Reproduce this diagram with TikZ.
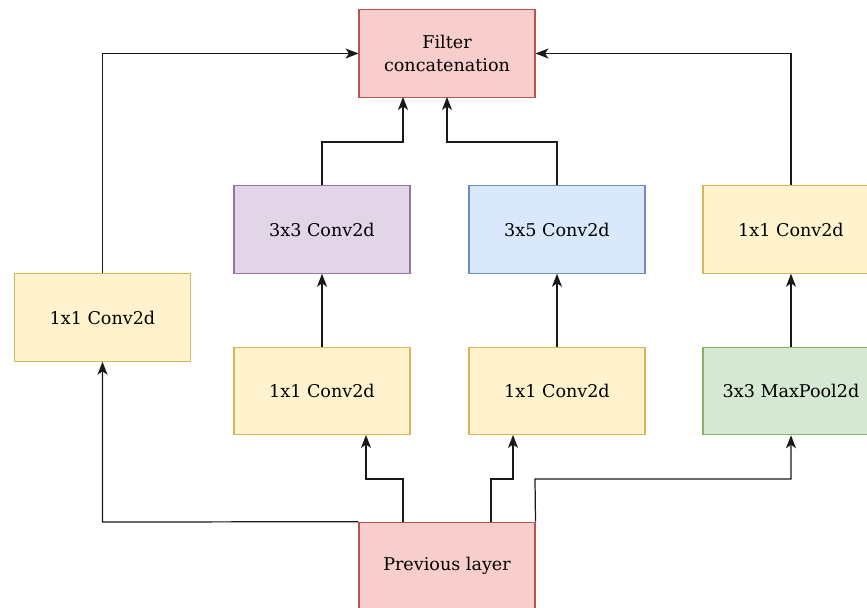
\documentclass[tikz,border=0pt]{standalone}
\usepackage{fontspec}
\setmainfont{DejaVu Serif}
\usetikzlibrary{arrows.meta,positioning}
\definecolor{RedFill}{HTML}{F8CECC}
\definecolor{RedLine}{HTML}{B85450}
\definecolor{YellowFill}{HTML}{FFF2CC}
\definecolor{YellowLine}{HTML}{D6B656}
\definecolor{PurpleFill}{HTML}{E1D5E7}
\definecolor{PurpleLine}{HTML}{9673A6}
\definecolor{BlueFill}{HTML}{DAE8FC}
\definecolor{BlueLine}{HTML}{6C8EBF}
\definecolor{GreenFill}{HTML}{D5E8D4}
\definecolor{GreenLine}{HTML}{82B366}

\begin{document}
\begin{tikzpicture}[
        x=0.02cm,y=-0.02cm,
        block/.style={rectangle,draw,line width=0.6pt,align=center,
          minimum width=3.52cm,minimum height=1.75cm,inner sep=0pt,
          font=\fontsize{10}{13}\selectfont},
        redbox/.style={block,fill=RedFill,draw=RedLine},
        conv/.style={block,fill=YellowFill,draw=YellowLine},
        arrow/.style={-{Stealth[length=2.6mm,width=2mm,inset=0.7mm]},line width=0.7pt,draw=black!90}
      ]
        \useasboundingbox (0,0) rectangle (867,608);
        \node[redbox] (concat) at (447,53.5) {Filter\\concatenation};
        \node[conv] (leftconv) at (102.5,317.5) {1x1 Conv2d};
        \node[block,fill=PurpleFill,draw=PurpleLine] (conva) at (322,229.5) {3x3 Conv2d};
        \node[block,fill=BlueFill,draw=BlueLine] (convb) at (557,229.5) {3x5 Conv2d};
        \node[conv] (rightconv) at (791,229.5) {1x1 Conv2d};
        \node[conv] (reducea) at (322,391) {1x1 Conv2d};
        \node[conv] (reduceb) at (557,391) {1x1 Conv2d};
        \node[block,fill=GreenFill,draw=GreenLine] (pool) at (791,391) {3x3 MaxPool2d};
        \node[redbox] (prev) at (447,566) {Previous layer};
        % branches leaving the previous layer
        \draw[arrow] (prev.north west) -- (102.5,522) -- (leftconv.south);
        \draw[arrow] (403,522) -- (403,479) -- (366,479) -- (366,435);
        \draw[arrow] (491,522) -- (491,479) -- (513,479) -- (513,435);
        \draw[arrow] (prev.north east) -- (535,479) -- (791,479) -- (pool.south);
        % inside the branches
        \draw[arrow] (reducea) -- (conva);
        \draw[arrow] (reduceb) -- (convb);
        \draw[arrow] (pool) -- (rightconv);
        % into the concatenation
        \draw[arrow] (leftconv.north) -- (102.5,53.5) -- (concat.west);
        \draw[arrow] (conva.north) -- (322,142) -- (403,142) -- (403,97);
        \draw[arrow] (convb.north) -- (557,142) -- (447,142) -- (447,97);
        \draw[arrow] (rightconv.north) -- (791,53.5) -- (concat.east);
      \end{tikzpicture}
\end{document}
